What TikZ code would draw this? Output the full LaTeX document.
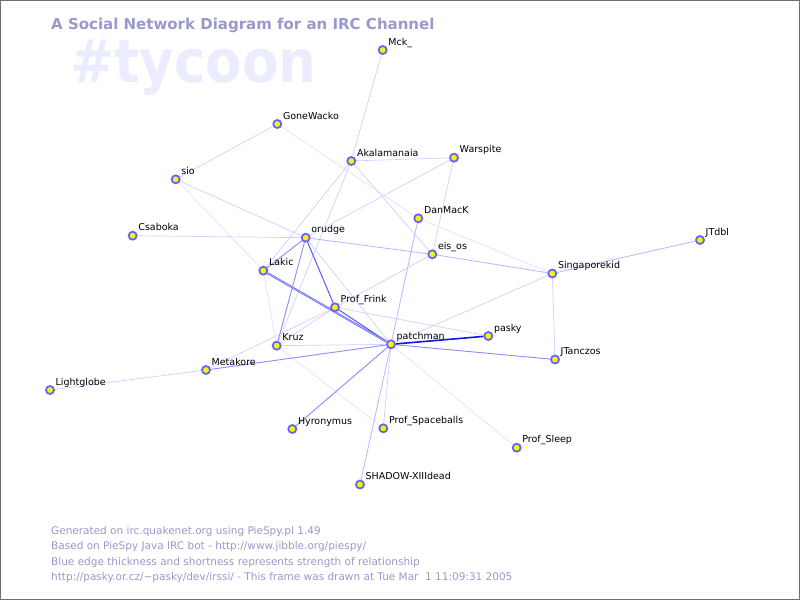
\documentclass[tikz,border=0pt]{standalone}
\usepackage{fontspec}
\setmainfont{DejaVu Sans}
\usetikzlibrary{backgrounds}
\pgfdeclarelayer{edges}
\pgfsetlayers{background,edges,main}
\definecolor{ttl}{RGB}{153,153,204}
\definecolor{wm}{RGB}{236,236,255}
\definecolor{ring}{RGB}{100,100,255}
\definecolor{c1}{RGB}{226,226,255}
\definecolor{c2}{RGB}{208,208,255}
\definecolor{c3}{RGB}{182,182,255}
\definecolor{c4}{RGB}{140,140,255}
\definecolor{c5}{RGB}{90,90,255}
\definecolor{c6}{RGB}{20,20,230}
\definecolor{frame}{RGB}{110,110,110}
\begin{document}
\begin{tikzpicture}[x=1pt,y=-1pt,
  pnode/.style={circle,draw=ring,fill=yellow,line width=1.8pt,minimum size=8pt,inner sep=0pt},
  lbl/.style={font=\fontsize{9.5}{11}\selectfont,text=black,inner sep=0pt,anchor=base west},
  foot/.style={font=\fontsize{10.5}{12}\selectfont,text=ttl,inner sep=0pt,anchor=base west},
  w1/.style={draw=c1,line width=0.7pt},
  w2/.style={draw=c2,line width=0.7pt},
  w3/.style={draw=c3,line width=0.8pt},
  w4/.style={draw=c4,line width=0.9pt},
  w5/.style={draw=c5,line width=1pt},
  w5d/.style={draw=c5,line width=0.6pt,double=c3,double distance=0.7pt},
  w6/.style={draw=c6,line width=1.6pt}]
\useasboundingbox (0,0) rectangle (800,600);
\begin{pgfonlayer}{background}
  \fill[white] (0,0) rectangle (800,600);
  \draw[frame,line width=1pt] (0.5,0.5) rectangle (799.5,599.5);
  \node[inner sep=0pt,anchor=base west,text=wm,yscale=1.12,font=\bfseries\fontsize{53}{60}\selectfont] (chan) at (70,82) {\#tycoon};
  \node[inner sep=0pt,anchor=base west,text=ttl,font=\bfseries\fontsize{15}{18}\selectfont] (title) at (51,29.5) {A Social Network Diagram for an IRC Channel};
  \node[foot] (f1) at (51,534) {Generated on irc.quakenet.org using PieSpy.pl 1.49};
  \node[foot] (f2) at (51,549.5) {Based on PieSpy Java IRC bot - http://www.jibble.org/piespy/};
  \node[foot] (f3) at (51,565) {Blue edge thickness and shortness represents strength of relationship};
  \node[foot] (f4) at (51,580.5) {http://pasky.or.cz/\textasciitilde pasky/dev/irssi/ - This frame was drawn at Tue Mar\ \ 1 11:09:31 2005};
\end{pgfonlayer}
\foreach \n/\x/\y/\t in {
  mck/382.7/50/Mck\_,
  gone/277.3/124/GoneWacko,
  sio/175.7/179.3/sio,
  csab/132.7/235.7/Csaboka,
  akal/351.3/161/Akalamanaia,
  wars/454/157.7/Warspite,
  danm/418.3/218.3/DanMacK,
  eis/432.3/254.3/eis\_os,
  sing/552.3/273.5/Singaporekid,
  jtd/700/240/JTdbl,
  pasky/488.3/336/pasky,
  patch/391/344.3/patchman,
  jtan/555/359.5/JTanczos,
  space/383.3/428.3/Prof\_Spaceballs,
  sleep/516.7/447.7/Prof\_Sleep,
  orudge/305.7/237.7/orudge,
  lakic/263.3/270.7/Lakic,
  frink/335/307.3/Prof\_Frink,
  kruz/276.7/345.7/Kruz,
  meta/206/370/Metakore,
  light/50/390/Lightglobe,
  hyro/292.3/429/Hyronymus,
  shadow/360/484.5/SHADOW-XIIIdead}
{
  \node[pnode] (\n) at (\x,\y) {};
  \node[lbl] (\n-l) at ([xshift=5.5pt,yshift=5pt]\n.center) {\t};
}
\begin{pgfonlayer}{edges}
\foreach \a/\b/\s in {
  mck/akal/w2, gone/sio/w2, gone/danm/w1, sio/orudge/w2, sio/lakic/w1,
  csab/orudge/w2, akal/wars/w2, akal/lakic/w2, akal/kruz/w2, akal/eis/w2,
  wars/orudge/w2, wars/eis/w2, danm/sing/w1, danm/patch/w3, eis/sing/w3,
  orudge/eis/w3, eis/frink/w2, meta/frink/w2, sing/jtd/w3,
  sing/jtan/w2, sing/patch/w2, patch/jtan/w4, patch/sleep/w1, frink/pasky/w2,
  orudge/lakic/w4, orudge/frink/w5, orudge/kruz/w4, orudge/patch/w2,
  frink/patch/w5, lakic/kruz/w1, kruz/frink/w2, kruz/patch/w2,
  kruz/space/w1, meta/light/w2, meta/patch/w4, hyro/patch/w4,
  shadow/patch/w3, space/patch/w2, lakic/patch/w5d, patch/pasky/w6}
{
  \draw[\s] (\a) -- (\b);
}
\end{pgfonlayer}
\end{tikzpicture}
\end{document}
